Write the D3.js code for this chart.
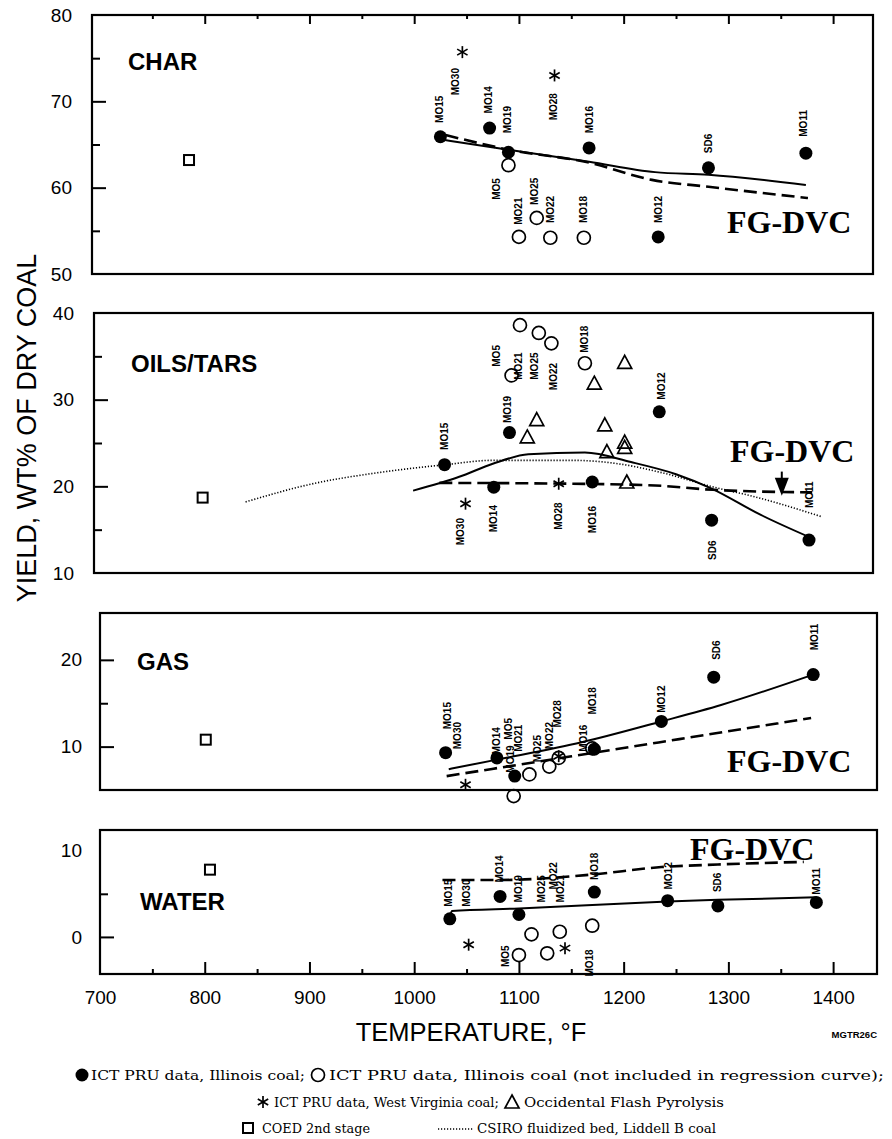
<!DOCTYPE html>
<html><head><meta charset="utf-8">
<script src="https://cdn.jsdelivr.net/npm/d3@7"></script>
<style>body{margin:0;background:#fff}svg{display:block}</style>
</head><body>
<svg id="c" width="892" height="1139"></svg>
<script>
// ---------------- data ----------------
const xDomain = [700, 1440];
const xTickLabels = [700, 800, 900, 1000, 1100, 1200, 1300, 1400];
const xMajorTicks = [800, 900, 1000, 1100, 1200, 1300, 1400];
const xMinorTicks = [750, 850, 950, 1050, 1150, 1250, 1350];

// CHAR
const charIllinois = [[1025,65.9],[1072,66.9],[1090,64.1],[1167,64.6],[1233,54.3],[1281,62.3],[1374,64.0]];
const charExcluded = [[1090,62.6],[1100,54.3],[1117,56.5],[1130,54.2],[1162,54.2]];
const charWestVirginia = [[1046,75.7],[1134,73.0]];
const charOccidental = [];
const charCOED = [[785,63.2]];
const charRegression = [[1025,65.6],[1090,64.4],[1167,63.0],[1230,61.8],[1281,61.5],[1374,60.3]];
const charFGDVC = [[1030,66.1],[1090,64.4],[1167,62.9],[1227,60.9],[1281,60.1],[1376,58.8]];
const charCSIRO = [];
const charLabels = [["MO15",1024,67.5],["MO30",1039,70.7],["MO14",1071,68.6],["MO19",1089,66.3],["MO5",1079,58.6],
  ["MO21",1100,55.7],["MO25",1115,58.0],["MO22",1130,55.9],["MO28",1133,67.8],["MO18",1162,55.9],
  ["MO16",1167,66.3],["MO12",1233,55.9],["SD6",1281,64.0],["MO11",1372,65.9]];
const charYTicks = [80, 70, 60, 50];

// OILS/TARS
const oilsIllinois = [[1029,22.5],[1076,19.9],[1091,26.2],[1170,20.5],[1234,28.6],[1284,16.1],[1377,13.8]];
const oilsExcluded = [[1093,32.8],[1101,38.6],[1119,37.7],[1131,36.5],[1163,34.2]];
const oilsWestVirginia = [[1049,18.0],[1138,20.3]];
const oilsOccidental = [[1108,25.7],[1117,27.7],[1172,31.9],[1201,34.3],[1182,27.1],[1201,24.5],[1201,25.1],[1184,24.0],[1203,20.5]];
const oilsCOED = [[798,18.7]];
const oilsRegression = [[999,19.5],[1043,21.1],[1075,22.6],[1109,23.7],[1163,23.9],[1207,22.8],[1250,21.4],[1283,19.8],[1331,16.7],[1380,14.0]];
const oilsFGDVC = [[1024,20.4],[1150,20.3],[1230,20.1],[1285,19.6],[1380,19.3]];
const oilsCSIRO = [[839,18.2],[907,20.4],[961,21.5],[1030,22.5],[1075,23.0],[1151,23.0],[1195,22.6],[1239,21.5],[1283,20.0],[1325,18.8],[1389,16.5]];
const oilsLabels = [["MO15",1029,24.2],["MO19",1089,27.3],["MO5",1079,33.8],["MO21",1100,32.3],["MO25",1115,32.3],
  ["MO22",1133,31.1],["MO18",1163,35.4],["MO12",1236,30.0],["MO30",1044,13.2],["MO14",1076,14.7],
  ["MO28",1138,15.0],["MO16",1170,14.6],["SD6",1285,11.5],["MO11",1377,17.5]];
const oilsArrow = [1351, 21.7, 18.9]; // temperature, from-yield, to-yield
const oilsYTicks = [40, 30, 20, 10];

// GAS
const gasIllinois = [[1030,9.3],[1079,8.7],[1096,6.6],[1172,9.7],[1236,12.9],[1286,18.0],[1381,18.3]];
const gasExcluded = [[1110,6.8],[1095,4.3],[1129,7.7],[1138,8.7],[1170,9.8]];
const gasWestVirginia = [[1049,5.6],[1138,8.9]];
const gasOccidental = [];
const gasCOED = [[801,10.8]];
const gasRegression = [[1033,7.4],[1079,8.5],[1160,10.5],[1236,12.9],[1293,14.8],[1381,18.3]];
const gasFGDVC = [[1031,6.6],[1172,9.3],[1379,13.3]];
const gasCSIRO = [];
const gasLabels = [["MO15",1032,12.0],["MO30",1041,9.7],["MO14",1079,9.1],["MO5",1090,10.8],["MO19",1092,7.0],
  ["MO21",1100,9.4],["MO25",1118,8.2],["MO22",1129,9.7],["MO28",1137,12.2],["MO16",1162,9.4],
  ["MO18",1170,13.7],["MO12",1236,13.9],["SD6",1289,20.0],["MO11",1382,21.1]];
const gasYTicks = [20, 10];

// WATER
const waterIllinois = [[1034,2.1],[1082,4.7],[1100,2.6],[1172,5.2],[1242,4.2],[1290,3.6],[1384,4.0]];
const waterExcluded = [[1100,-2.1],[1112,0.3],[1127,-1.9],[1139,0.6],[1170,1.3]];
const waterWestVirginia = [[1052,-0.9],[1144,-1.3]];
const waterOccidental = [];
const waterCOED = [[805,7.8]];
const waterRegression = [[1034,2.2],[1036,3.0],[1100,3.3],[1242,4.1],[1290,4.3],[1384,4.6]];
const waterFGDVC = [[1027,6.6],[1082,6.6],[1167,7.2],[1236,8.1],[1290,8.4],[1372,8.7]];
const waterCSIRO = [];
const waterLabels = [["MO15",1033,3.5],["MO30",1050,3.5],["MO14",1081,6.3],["MO19",1100,4.0],["MO25",1122,4.0],
  ["MO22",1133,5.5],["MO21",1140,4.0],["MO18",1172,6.6],["MO12",1243,5.5],["SD6",1290,5.2],
  ["MO11",1384,4.9],["MO5",1087,-3.5],["MO18",1167,-4.6]];
const waterYTicks = [10, 0];

const legendRow1 = ["ICT PRU data, Illinois coal;", "ICT PRU data, Illinois coal (not included in regression curve);"];
const legendRow2 = ["ICT PRU data, West Virginia coal;", "Occidental Flash Pyrolysis"];
const legendRow3 = ["COED 2nd stage", "CSIRO fluidized bed, Liddell B coal"];

// ---------------- layout ----------------
const panels = [
  {title:"CHAR", yDomain:[50,80], box:[92,15,873,274], major:[60,70], minor:[55,65,75], yTicks:charYTicks,
   tPos:[128,70], fgPos:[727,233], labelEnd:72,
   illinois:charIllinois, excluded:charExcluded, wv:charWestVirginia, occ:charOccidental, coed:charCOED,
   reg:charRegression, fg:charFGDVC, csiro:charCSIRO, labels:charLabels},
  {title:"OILS/TARS", yDomain:[10,40], box:[94,313,873,573], major:[20,30], minor:[15,25,35], yTicks:oilsYTicks,
   tPos:[131,372], fgPos:[730,462], labelEnd:74,
   illinois:oilsIllinois, excluded:oilsExcluded, wv:oilsWestVirginia, occ:oilsOccidental, coed:oilsCOED,
   reg:oilsRegression, fg:oilsFGDVC, csiro:oilsCSIRO, labels:oilsLabels, arrow:oilsArrow},
  {title:"GAS", yDomain:[5,25.4], box:[100,613,877,790], major:[10,20], minor:[15], yTicks:gasYTicks,
   tPos:[137,670], fgPos:[727,772], labelEnd:82,
   illinois:gasIllinois, excluded:gasExcluded, wv:gasWestVirginia, occ:gasOccidental, coed:gasCOED,
   reg:gasRegression, fg:gasFGDVC, csiro:gasCSIRO, labels:gasLabels},
  {title:"WATER", yDomain:[-4.3,12.4], box:[100,830,877,974], major:[0], minor:[5], yTicks:waterYTicks,
   tPos:[140,910], fgPos:[690,860], labelEnd:82,
   illinois:waterIllinois, excluded:waterExcluded, wv:waterWestVirginia, occ:waterOccidental, coed:waterCOED,
   reg:waterRegression, fg:waterFGDVC, csiro:waterCSIRO, labels:waterLabels}
];

const svg = d3.select("#c");
svg.append("rect").attr("width",892).attr("height",1139).attr("fill","#fff");
const x = d3.scaleLinear().domain(xDomain).range([100, 875]);
const SANS = "'Liberation Sans', Arial, sans-serif";
const SERIF = "'Liberation Serif', 'Times New Roman', serif";
const LEGF = "'DejaVu Serif', serif";

function drawSymbol(g, type, cx, cy, s) {
  s = s || 1;
  if (type === "filled") g.append("circle").attr("cx",cx).attr("cy",cy).attr("r",6.5*s).attr("fill","#000");
  else if (type === "open") g.append("circle").attr("cx",cx).attr("cy",cy).attr("r",6.5*s).attr("fill","none").attr("stroke","#000").attr("stroke-width",1.7);
  else if (type === "tri") g.append("path").attr("d",`M${cx},${cy-7*s}L${cx+7*s},${cy+6*s}L${cx-7*s},${cy+6*s}Z`).attr("fill","none").attr("stroke","#000").attr("stroke-width",1.7);
  else if (type === "square") g.append("rect").attr("x",cx-5*s).attr("y",cy-5*s).attr("width",10*s).attr("height",10*s).attr("fill","none").attr("stroke","#000").attr("stroke-width",2);
  else if (type === "star") {
    const r = 6*s;
    [90, 30, 150].forEach(a => {
      const dx = r*Math.cos(a*Math.PI/180), dy = r*Math.sin(a*Math.PI/180);
      g.append("line").attr("x1",cx-dx).attr("y1",cy-dy).attr("x2",cx+dx).attr("y2",cy+dy).attr("stroke","#000").attr("stroke-width",1.7);
    });
  }
}

panels.forEach(p => {
  const [L, T, R, B] = p.box;
  const y = d3.scaleLinear().domain(p.yDomain).range([B, T]);
  const g = svg.append("g");

  g.append("rect").attr("x",L).attr("y",T).attr("width",R-L).attr("height",B-T)
    .attr("fill","none").attr("stroke","#000").attr("stroke-width",2.2);

  g.append("g").attr("transform",`translate(${L},0)`)
    .call(d3.axisRight(y).tickValues(p.major).tickSize(14).tickFormat(""))
    .call(a => a.select(".domain").remove())
    .selectAll("line").attr("stroke-width",2);
  g.append("g").attr("transform",`translate(${L},0)`)
    .call(d3.axisRight(y).tickValues(p.minor).tickSize(8).tickFormat(""))
    .call(a => a.select(".domain").remove())
    .selectAll("line").attr("stroke-width",2);
  g.append("g").attr("transform",`translate(${p.labelEnd},0)`)
    .call(d3.axisLeft(y).tickValues(p.yTicks).tickSize(0).tickPadding(0).tickFormat(d3.format("d")))
    .call(a => a.select(".domain").remove())
    .selectAll("text").attr("font-size",19).attr("font-family",SANS).attr("fill","#000");

  const line = d3.line().x(d => x(d[0])).y(d => y(d[1])).curve(d3.curveMonotoneX);
  if (p.csiro.length) g.append("path").attr("d",line(p.csiro)).attr("fill","none").attr("stroke","#000")
      .attr("stroke-width",1.6).attr("stroke-dasharray","1.2,1.8");
  g.append("path").attr("d",line(p.reg)).attr("fill","none").attr("stroke","#000").attr("stroke-width",2);
  g.append("path").attr("d",line(p.fg)).attr("fill","none").attr("stroke","#000").attr("stroke-width",2.6)
    .attr("stroke-dasharray","13,6");

  p.coed.forEach(d => drawSymbol(g, "square", x(d[0]), y(d[1])));
  p.occ.forEach(d => drawSymbol(g, "tri", x(d[0]), y(d[1])));
  p.excluded.forEach(d => drawSymbol(g, "open", x(d[0]), y(d[1])));
  p.wv.forEach(d => drawSymbol(g, "star", x(d[0]), y(d[1])));
  p.illinois.forEach(d => drawSymbol(g, "filled", x(d[0]), y(d[1])));

  g.selectAll("text.lbl").data(p.labels).join("text").attr("class","lbl")
    .attr("transform", d => `translate(${x(d[1])},${y(d[2])}) rotate(-90)`)
    .attr("dy","0.35em").attr("text-anchor","start")
    .attr("font-family",SANS).attr("font-weight","bold").attr("font-size",10).text(d => d[0]);

  g.append("text").attr("x",p.tPos[0]).attr("y",p.tPos[1]).attr("font-family",SANS)
    .attr("font-weight","bold").attr("font-size",24).text(p.title);
  g.append("text").attr("x",p.fgPos[0]).attr("y",p.fgPos[1]).attr("font-family",SERIF)
    .attr("font-weight","bold").attr("font-size",32).text("FG-DVC");

  if (p.arrow) {
    const ax = x(p.arrow[0]), y1 = y(p.arrow[1]), y2 = y(p.arrow[2]);
    g.append("line").attr("x1",ax).attr("x2",ax).attr("y1",y1).attr("y2",y2-10).attr("stroke","#000").attr("stroke-width",2);
    g.append("path").attr("d",`M${ax-7},${y2-18}L${ax+7},${y2-18}L${ax},${y2}Z`).attr("fill","#000");
  }

  if (p.title === "CHAR") {
    g.append("g").attr("transform",`translate(0,${T})`)
      .call(d3.axisBottom(x).tickValues(xMajorTicks).tickSize(9).tickFormat(""))
      .call(a => a.select(".domain").remove()).selectAll("line").attr("stroke-width",2);
    g.append("g").attr("transform",`translate(0,${T})`)
      .call(d3.axisBottom(x).tickValues(xMinorTicks).tickSize(4).tickFormat(""))
      .call(a => a.select(".domain").remove()).selectAll("line").attr("stroke-width",2);
  }
  if (p.title === "WATER") {
    g.append("g").attr("transform",`translate(0,${B})`)
      .call(d3.axisTop(x).tickValues(xMajorTicks).tickSize(12).tickFormat(""))
      .call(a => a.select(".domain").remove()).selectAll("line").attr("stroke-width",2);
    g.append("g").attr("transform",`translate(0,${B})`)
      .call(d3.axisTop(x).tickValues(xMinorTicks).tickSize(5).tickFormat(""))
      .call(a => a.select(".domain").remove()).selectAll("line").attr("stroke-width",2);
    g.append("g").attr("transform",`translate(0,${B + 16})`)
      .call(d3.axisBottom(x).tickValues(xTickLabels).tickSize(0).tickPadding(0).tickFormat(d3.format("d")))
      .call(a => a.select(".domain").remove())
      .selectAll("text").attr("font-size",19).attr("font-family",SANS).attr("fill","#000");
  }
});

// axis titles
svg.append("text").attr("transform","translate(36,428) rotate(-90)").attr("text-anchor","middle")
  .attr("font-family",SANS).attr("font-size",27).text("YIELD, WT% OF DRY COAL");
svg.append("text").attr("x",471).attr("y",1041).attr("text-anchor","middle")
  .attr("font-family",SANS).attr("font-size",25.5).text("TEMPERATURE, \u00B0F");
svg.append("text").attr("x",877).attr("y",1038).attr("text-anchor","end")
  .attr("font-family",SANS).attr("font-weight","bold").attr("font-size",9.5).text("MGTR26C");

// legend
const lg = svg.append("g");
function legText(t, x0, x1, yb) {
  lg.append("text").attr("x",x0).attr("y",yb).attr("font-family",LEGF).attr("font-size",13.5)
    .attr("textLength",x1-x0).attr("lengthAdjust","spacingAndGlyphs").text(t);
}
drawSymbol(lg, "filled", 82, 1075);
legText(legendRow1[0], 91, 305, 1080);
drawSymbol(lg, "open", 318, 1075);
legText(legendRow1[1], 329, 884, 1080);
drawSymbol(lg, "star", 263, 1102);
legText(legendRow2[0], 274, 499, 1107);
drawSymbol(lg, "tri", 512, 1102);
legText(legendRow2[1], 524, 724, 1107);
drawSymbol(lg, "square", 248, 1128);
legText(legendRow3[0], 262, 370, 1133);
lg.append("line").attr("x1",438).attr("x2",474).attr("y1",1129).attr("y2",1129).attr("stroke","#000")
  .attr("stroke-width",1.6).attr("stroke-dasharray","1.2,1.8");
legText(legendRow3[1], 477, 716, 1133);
</script>
</body></html>
